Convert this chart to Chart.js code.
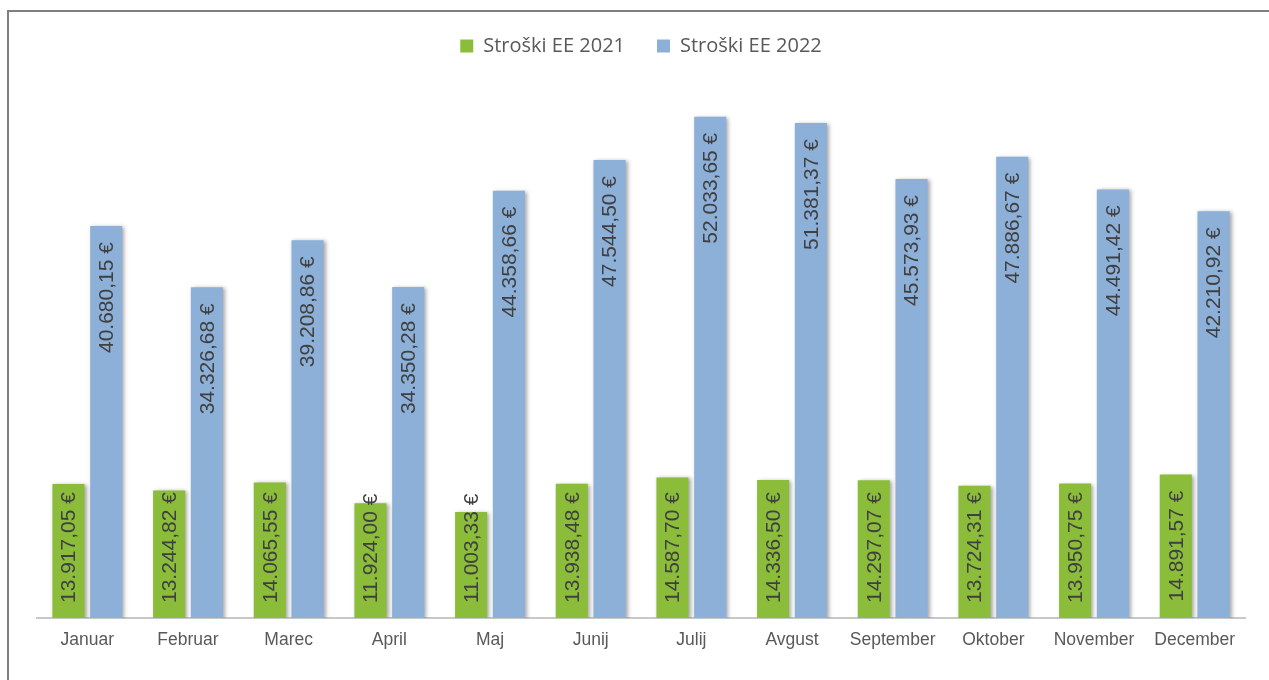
<!DOCTYPE html>
<html>
<head>
<meta charset="utf-8">
<title>Stroški EE</title>
<script src="https://cdn.jsdelivr.net/npm/chart.js@4.4.1/dist/chart.umd.min.js"></script>
<style>
    body { margin: 0; background: #ffffff; }
    #stroski_chart { display: block; }
</style>
</head>
<body>
<canvas id="stroski_chart" width="1269" height="680"></canvas>
<script>
// podatki
const meseci = ["Januar", "Februar", "Marec", "April", "Maj", "Junij", "Julij", "Avgust", "September", "Oktober", "November", "December"];
const stroski2021 = [13917.05, 13244.82, 14065.55, 11924.00, 11003.33, 13938.48, 14587.70, 14336.50, 14297.07, 13724.31, 13950.75, 14891.57];
const stroski2022 = [40680.15, 34326.68, 39208.86, 34350.28, 44358.66, 47544.50, 52033.65, 51381.37, 45573.93, 47886.67, 44491.42, 42210.92];
const oznake = ["Stroški EE 2021", "Stroški EE 2022"];

// 13917.05 -> "13.917,05 €"
function formatEur(value) {
    const parts = value.toFixed(2).split(".");
    const cela = parts[0].replace(/\B(?=(\d{3})+(?!\d))/g, ".");
    return cela + "," + parts[1] + " €";
}

// okvir okoli grafa
const okvirPlugin = {
    id: "okvir",
    beforeDraw(chart) {
        const ctx = chart.ctx;
        ctx.save();
        ctx.strokeStyle = "#7f7f7f";
        ctx.lineWidth = 2;
        ctx.beginPath();
        ctx.moveTo(8, chart.height);
        ctx.lineTo(8, 11);
        ctx.lineTo(chart.width, 11);
        ctx.stroke();
        ctx.restore();
    }
};

// senca pod stolpci
const sencaPlugin = {
    id: "senca",
    beforeDatasetsDraw(chart) {
        const ctx = chart.ctx;
        ctx.save();
        ctx.shadowColor = "rgba(0, 0, 0, 0.35)";
        ctx.shadowBlur = 4;
        ctx.shadowOffsetX = 2;
        ctx.shadowOffsetY = 1;
    },
    afterDatasetsDraw(chart) {
        chart.ctx.restore();
    }
};

// navpicne oznake vrednosti v stolpcih
const oznakePlugin = {
    id: "oznakeVrednosti",
    afterDatasetsDraw(chart) {
        const ctx = chart.ctx;
        ctx.save();
        ctx.font = "21px 'Liberation Sans', Arial, sans-serif";
        ctx.fillStyle = "#404040";
        ctx.textAlign = "left";
        ctx.textBaseline = "middle";
        chart.data.datasets.forEach((dataset, i) => {
            const meta = chart.getDatasetMeta(i);
            meta.data.forEach((bar, j) => {
                const text = formatEur(dataset.data[j]);
                const w = ctx.measureText(text).width;
                const start = Math.min(bar.base - 15, bar.y + 16 + w);
                ctx.save();
                ctx.translate(bar.x + 1, start);
                ctx.rotate(-Math.PI / 2);
                ctx.fillText(text, 0, 0);
                ctx.restore();
            });
        });
        ctx.restore();
    }
};

const ctx = document.getElementById("stroski_chart").getContext("2d");
new Chart(ctx, {
    type: "bar",
    data: {
        labels: meseci,
        datasets: [
            {
                label: oznake[0],
                data: stroski2021,
                backgroundColor: "#8bbd3b",
                categoryPercentage: 0.75,
                barPercentage: 0.85
            },
            {
                label: oznake[1],
                data: stroski2022,
                backgroundColor: "#8db0d8",
                categoryPercentage: 0.75,
                barPercentage: 0.85
            }
        ]
    },
    options: {
        responsive: false,
        animation: false,
        layout: {
            padding: { top: 4, left: 37, right: 24, bottom: 17 }
        },
        plugins: {
            legend: {
                position: "top",
                labels: {
                    boxWidth: 13,
                    boxHeight: 13,
                    padding: 32,
                    color: "#595959",
                    font: { family: "'Open Sans', sans-serif", size: 20 }
                }
            },
            tooltip: { enabled: false }
        },
        scales: {
            x: {
                grid: { display: false, drawTicks: false },
                border: { display: true, color: "#c8c8c8", width: 2 },
                ticks: {
                    padding: 12,
                    color: "#595959",
                    font: { family: "'Liberation Sans', Arial, sans-serif", size: 17.5 }
                }
            },
            y: {
                display: false,
                min: 0,
                max: 57300
            }
        }
    },
    plugins: [okvirPlugin, sencaPlugin, oznakePlugin]
});
</script>
</body>
</html>
